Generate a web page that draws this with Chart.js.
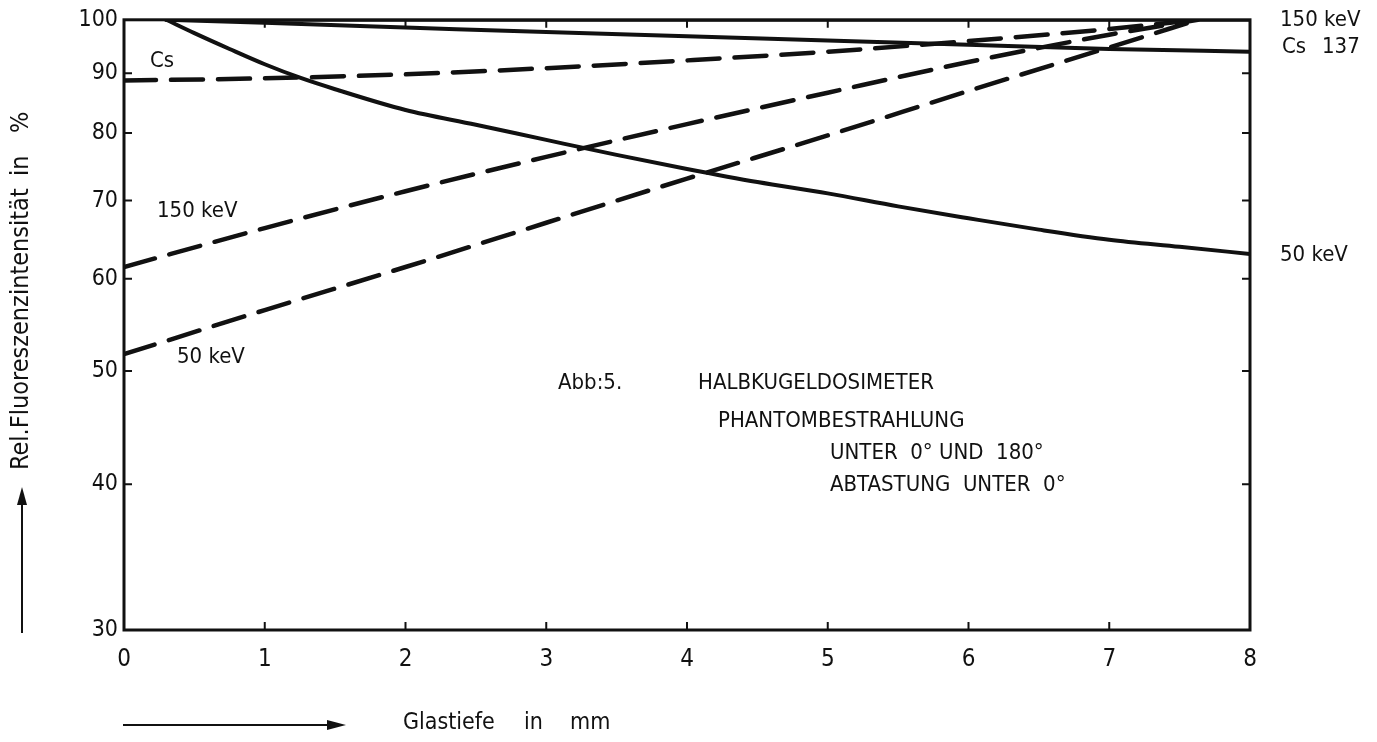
<!DOCTYPE html>
<html>
<head>
<meta charset="utf-8">
<script src="https://cdn.jsdelivr.net/npm/chart.js@4.4.1/dist/chart.umd.min.js"></script>
<style>
  html, body { margin: 0; padding: 0; background: #ffffff; }
  #wrap { width: 1377px; height: 742px; position: relative; }
</style>
</head>
<body>
<div id="wrap"><canvas id="chart" width="1377" height="742"></canvas></div>
<script>
// Glass depth (mm) tick values and relative intensity (%) tick values
const depthTicks = [0, 1, 2, 3, 4, 5, 6, 7, 8];
const intensityTicks = [30, 40, 50, 60, 70, 80, 90, 100];

// Solid curves
const kev150SolidDepth = [0.3, 8];
const kev150SolidValues = [100, 100];

const cs137SolidDepth = [0.3, 1, 2, 3, 4, 5, 6, 7, 8];
const cs137SolidValues = [100, 99.4, 98.5, 97.6, 96.8, 96.0, 95.2, 94.4, 93.9];

const kev50SolidDepth = [0.3, 0.5, 0.75, 1, 1.25, 1.5, 2, 2.5, 3, 3.5, 4, 4.5, 5, 5.5, 6, 6.5, 7, 7.5, 8];
const kev50SolidValues = [100, 97.4, 94.4, 91.6, 89.2, 87.2, 83.7, 81.3, 78.9, 76.6, 74.5, 72.6, 71.0, 69.2, 67.6, 66.1, 64.8, 63.9, 63.0];

// Dashed curves
const dashedDepth = [0, 1, 2, 3, 4, 5, 6, 7, 7.63];
const csDashedValues = [88.7, 89.1, 89.8, 90.9, 92.3, 93.9, 95.9, 98.2, 100];
const kev150DashedValues = [61.4, 66.3, 71.3, 76.3, 81.4, 86.6, 92.0, 97.1, 100];
const kev50DashedValues = [51.7, 56.4, 61.4, 67.0, 73.1, 79.6, 86.9, 94.7, 100];

const FONT = '"DejaVu Sans Condensed", "DejaVu Sans", "Liberation Sans", sans-serif';
const INK = '#111111';

const toPoints = (xs, ys) => xs.map((x, i) => ({ x: x, y: ys[i] }));

function solid(label, xs, ys) {
  return {
    label: label,
    data: toPoints(xs, ys),
    borderColor: INK,
    borderWidth: 4,
    pointRadius: 0,
    fill: false,
    cubicInterpolationMode: 'monotone',
    borderCapStyle: 'round',
    borderJoinStyle: 'round'
  };
}

function dashed(label, xs, ys) {
  return {
    label: label,
    data: toPoints(xs, ys),
    borderColor: INK,
    borderWidth: 4.5,
    borderDash: [32, 15],
    borderCapStyle: 'round',
    pointRadius: 0,
    fill: false,
    cubicInterpolationMode: 'monotone'
  };
}

// Frame, inward tick marks, arrows and all free-standing labels
const framePlugin = {
  id: 'framePlugin',
  afterDatasetsDraw(chart) {
    const ctx = chart.ctx;
    const a = chart.chartArea;
    const xs = chart.scales.x;
    const ys = chart.scales.y;
    ctx.save();
    ctx.strokeStyle = INK;
    ctx.lineCap = 'butt';

    // plot frame
    ctx.lineWidth = 3;
    ctx.strokeRect(a.left, a.top, a.right - a.left, a.bottom - a.top);

    // inward ticks on all four sides
    ctx.lineWidth = 2;
    const tl = 8;
    depthTicks.slice(1, -1).forEach(v => {
      const px = xs.getPixelForValue(v);
      ctx.beginPath();
      ctx.moveTo(px, a.bottom); ctx.lineTo(px, a.bottom - tl);
      ctx.moveTo(px, a.top); ctx.lineTo(px, a.top + tl);
      ctx.stroke();
    });
    intensityTicks.slice(1, -1).forEach(v => {
      const py = ys.getPixelForValue(v);
      ctx.beginPath();
      ctx.moveTo(a.left, py); ctx.lineTo(a.left + tl, py);
      ctx.moveTo(a.right, py); ctx.lineTo(a.right - tl, py);
      ctx.stroke();
    });

    ctx.fillStyle = INK;

    // axis arrows
    ctx.lineWidth = 2;
    ctx.beginPath(); ctx.moveTo(22, 633); ctx.lineTo(22, 500); ctx.stroke();
    ctx.beginPath(); ctx.moveTo(22, 487); ctx.lineTo(17, 505); ctx.lineTo(27, 505); ctx.closePath(); ctx.fill();
    ctx.beginPath(); ctx.moveTo(123, 725); ctx.lineTo(332, 725); ctx.stroke();
    ctx.beginPath(); ctx.moveTo(346, 725); ctx.lineTo(327, 720); ctx.lineTo(327, 730); ctx.closePath(); ctx.fill();

    // axis titles
    ctx.textBaseline = 'middle';
    ctx.textAlign = 'left';
    ctx.font = '23px ' + FONT;
    ctx.fillText('Glastiefe', 403, 723);
    ctx.fillText('in', 524, 723);
    ctx.fillText('mm', 570, 723);

    ctx.save();
    ctx.translate(21, 470);
    ctx.rotate(-Math.PI / 2);
    ctx.font = '25px ' + FONT;
    ctx.fillText('Rel.Fluoreszenzintensität', 0, 0);
    ctx.fillText('in', 294, 0);
    ctx.fillText('%', 337, 0);
    ctx.restore();

    // curve labels
    ctx.font = '22px ' + FONT;
    ctx.fillText('Cs', 150, 61);
    ctx.fillText('150 keV', 157, 211);
    ctx.fillText('50 keV', 177, 357);
    ctx.fillText('150 keV', 1280, 20);
    ctx.fillText('Cs', 1282, 47);
    ctx.fillText('137', 1322, 47);
    ctx.fillText('50 keV', 1280, 255);

    // figure caption block
    ctx.fillText('Abb:5.', 558, 383);
    ctx.fillText('HALBKUGELDOSIMETER', 698, 383);
    ctx.fillText('PHANTOMBESTRAHLUNG', 718, 421);
    ctx.fillText('UNTER  0° UND  180°', 830, 453);
    ctx.fillText('ABTASTUNG  UNTER  0°', 830, 485);

    ctx.restore();
  }
};

new Chart(document.getElementById('chart'), {
  type: 'line',
  data: {
    datasets: [
      solid('150 keV', kev150SolidDepth, kev150SolidValues),
      solid('Cs 137', cs137SolidDepth, cs137SolidValues),
      solid('50 keV', kev50SolidDepth, kev50SolidValues),
      dashed('Cs', dashedDepth, csDashedValues),
      dashed('150 keV', dashedDepth, kev150DashedValues),
      dashed('50 keV', dashedDepth, kev50DashedValues)
    ]
  },
  options: {
    responsive: false,
    devicePixelRatio: 1,
    animation: false,
    layout: { padding: { top: 17, right: 127, left: 0, bottom: 0 } },
    plugins: { legend: { display: false }, tooltip: { enabled: false } },
    scales: {
      x: {
        type: 'linear',
        min: 0,
        max: 8,
        afterFit(scale) { scale.height = 112; },
        afterBuildTicks(scale) { scale.ticks = depthTicks.map(v => ({ value: v })); },
        ticks: {
          color: INK,
          font: { family: FONT, size: 24 },
          padding: 15,
          maxRotation: 0,
          callback: v => String(v)
        },
        grid: { display: false, drawTicks: false },
        border: { display: false }
      },
      y: {
        type: 'logarithmic',
        min: 30,
        max: 100,
        afterFit(scale) { scale.width = 124; },
        afterBuildTicks(scale) { scale.ticks = intensityTicks.map(v => ({ value: v })); },
        ticks: {
          color: INK,
          font: { family: FONT, size: 23 },
          padding: 6,
          callback: v => String(v)
        },
        grid: { display: false, drawTicks: false },
        border: { display: false }
      }
    }
  },
  plugins: [framePlugin]
});
</script>
</body>
</html>
